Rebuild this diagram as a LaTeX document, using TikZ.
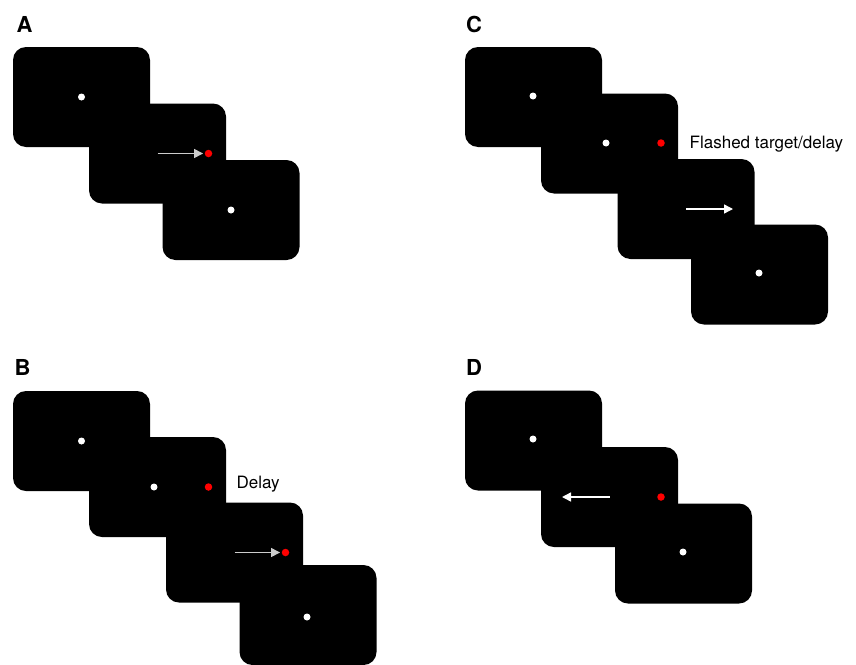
\documentclass[tikz,border=0pt]{standalone}
\usepackage{fontspec}
\setsansfont{TeX Gyre Heros}
\usetikzlibrary{arrows.meta}

\begin{document}
\begin{tikzpicture}[x=1pt,y=-1pt,
   screen/.style={fill=black,rounded corners=13pt,minimum width=137pt,minimum height=100pt,inner sep=0pt},
   fix/.style={circle,fill=white,inner sep=0pt,minimum size=7pt},
   targ/.style={circle,fill=red,inner sep=0pt,minimum size=7.5pt},
   cue/.style={-{Triangle[length=9pt,width=9pt]},line width=1.4pt,draw=white},
   panel/.style={font=\sffamily\bfseries\fontsize{22}{22}\selectfont,inner sep=0pt},
   lab/.style={font=\sffamily\fontsize{17}{17}\selectfont,anchor=base west,inner sep=0pt}]
  \useasboundingbox (0,0) rectangle (856,664);
  \node[panel] (A) at (24.5,24.5) {A};
  \node[panel] (B) at (22.5,367) {B};
  \node[panel] (C) at (474,24.5) {C};
  \node[panel] (D) at (474,367) {D};
  % A
  \node[screen] (a1) at (81.5,97) {};
  \node[fix] (a1f) at (a1) {};
  \node[screen] (a2) at (157.5,153.5) {};
  \node[targ] (a2t) at (208.5,153.5) {};
  \draw[cue,draw=white!80!black] (a2.center) -- ([xshift=-1.5pt]a2t.west);
  \node[screen] (a3) at (231,210) {};
  \node[fix] (a3f) at (a3) {};
  % B
  \node[screen] (b1) at (81.5,441) {};
  \node[fix] (b1f) at (b1) {};
  \node[screen] (b2) at (157.5,487) {};
  \node[fix] (b2f) at (154,487) {};
  \node[targ] (b2t) at (208.5,487) {};
  \node[lab] (delay) at (236.5,488.5) {Delay};
  \node[screen] (b3) at (234.5,552.5) {};
  \node[targ] (b3t) at (285.5,552.5) {};
  \draw[cue,draw=white!80!black] (b3.center) -- ([xshift=-1.5pt]b3t.west);
  \node[screen] (b4) at (308,615) {};
  \node[fix] (b4f) at (307,617) {};
  % C
  \node[screen] (c1) at (533.5,97) {};
  \node[fix] (c1f) at (533,96) {};
  \node[screen] (c2) at (609.5,143.5) {};
  \node[fix] (c2f) at (606,143) {};
  \node[targ] (c2t) at (661,143) {};
  \node[lab] (flash) at (689.5,148.3) {Flashed target/delay};
  \node[screen] (c3) at (686,209) {};
  \coordinate (c3e) at (733,209);
  \draw[cue] (c3.center) -- (c3e);
  \node[screen] (c4) at (759.5,274.5) {};
  \node[fix] (c4f) at (759,273) {};
  % D
  \node[screen] (d1) at (533.5,440.5) {};
  \node[fix] (d1f) at (533,439) {};
  \node[screen] (d2) at (609.5,497) {};
  \node[targ] (d2t) at (661,497) {};
  \coordinate (d2e) at (562,497);
  \draw[cue] (d2.center) -- (d2e);
  \node[screen] (d3) at (683.5,553.5) {};
  \node[fix] (d3f) at (683,552) {};
\end{tikzpicture}
\end{document}
